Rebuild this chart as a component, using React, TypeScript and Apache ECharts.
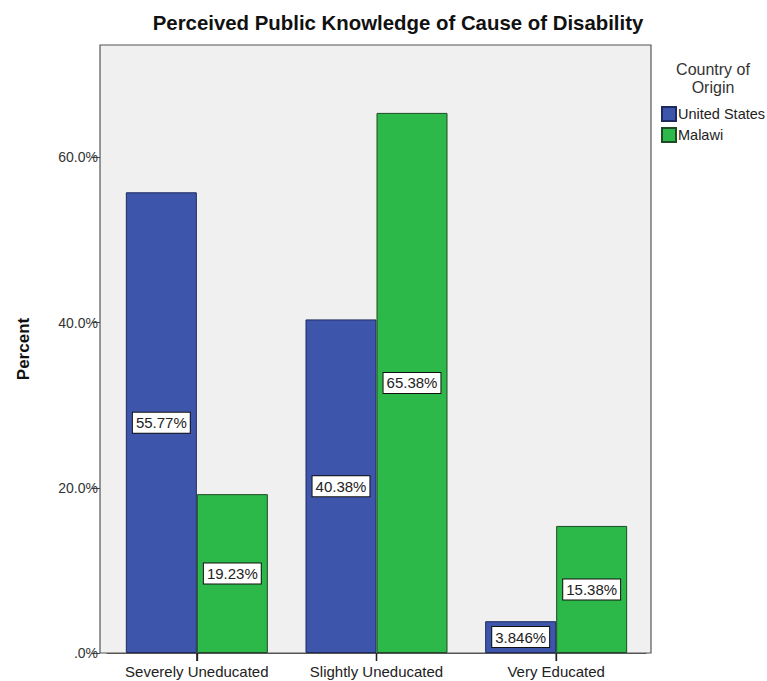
import React, { useEffect, useRef } from "react";
import * as echarts from "echarts";

const categories = ["Severely Uneducated", "Slightly Uneducated", "Very Educated"];
const unitedStates = [55.77, 40.38, 3.846];
const malawi = [19.23, 65.38, 15.38];
const yTicks = [0, 20, 40, 60];
const seriesNames = ["United States", "Malawi"];

const FONT = "Liberation Sans, Arial, sans-serif";

// plot frame (the framed grey panel)
const FRAME = { left: 100, right: 651, top: 45, bottom: 653 };
const W = 767;
const H = 681;

export default function App() {
  const ref = useRef<HTMLDivElement>(null);
  useEffect(() => {
    document.body.style.margin = "0";
    const chart = echarts.init(ref.current!, undefined, { renderer: "svg" });
    const label = {
      show: true,
      position: "inside",
      formatter: (p: any) => `${p.value}%`,
      color: "#222",
      fontFamily: FONT,
      fontSize: 15,
      backgroundColor: "#fff",
      borderColor: "#111",
      borderWidth: 1,
      padding: [3, 3, 2, 3],
    };
    const gridLeft = 107;
    const gridRight = 121;
    const plotW = W - gridLeft - gridRight;
    // category tick decoration at each category centre of the band axis
    const tickLines = categories.map((_c, i) => {
      const x = gridLeft + (plotW * (i + 0.5)) / categories.length;
      return {
        id: `xtick${i}`,
        type: "line",
        silent: true,
        z: 100,
        shape: { x1: x, y1: FRAME.bottom, x2: x, y2: FRAME.bottom + 8 },
        style: { stroke: "#222", lineWidth: 1.3 },
      };
    });
    chart.setOption({
      animation: false,
      backgroundColor: "#fff",
      graphic: [
        {
          id: "frame",
          type: "rect",
          z: -10,
          silent: true,
          shape: {
            x: FRAME.left,
            y: FRAME.top,
            width: FRAME.right - FRAME.left,
            height: FRAME.bottom - FRAME.top,
          },
          style: { fill: "#F0F0F0", stroke: "#555", lineWidth: 1.2 },
        },
        ...tickLines,
      ],
      title: [
        {
          text: "Perceived Public Knowledge of Cause of Disability",
          left: 393,
          top: 8,
          textAlign: "center",
          textStyle: { fontFamily: FONT, fontSize: 20.4, fontWeight: "bold", color: "#111" },
        },
        {
          text: "Country of\nOrigin",
          left: 708,
          top: 55,
          textAlign: "center",
          textStyle: { fontFamily: FONT, fontSize: 16, fontWeight: "normal", color: "#333", lineHeight: 18 },
        },
      ],
      legend: {
        orient: "vertical",
        left: 656,
        top: 101,
        itemWidth: 14,
        itemHeight: 14,
        itemGap: 5,
        icon: "rect",
        data: seriesNames,
        textStyle: { fontFamily: FONT, fontSize: 14.5, color: "#222", padding: [0, 0, 0, -3] },
      },
      grid: {
        left: gridLeft,
        right: gridRight,
        top: FRAME.top,
        bottom: H - FRAME.bottom,
        show: false,
      },
      xAxis: {
        type: "category",
        data: categories,
        axisLine: { show: true, onZero: false, lineStyle: { color: "#555", width: 1.2 } },
        axisTick: {
          show: true,
          interval: 0,
          alignWithLabel: true,
          length: 8,
          lineStyle: { color: "#222", width: 1.3 },
        },
        axisLabel: { interval: 0, fontFamily: FONT, fontSize: 15, color: "#222", margin: 11 },
      },
      yAxis: {
        type: "value",
        min: 0,
        max: 73.6,
        interval: 20,
        offset: gridLeft - FRAME.left,
        name: "Percent",
        nameLocation: "middle",
        nameGap: 68,
        nameTextStyle: { fontFamily: FONT, fontSize: 17, fontWeight: "bold", color: "#111" },
        splitLine: { show: false },
        axisLine: { show: false },
        axisTick: { show: true, length: 8, lineStyle: { color: "#444" }, customValues: yTicks },
        axisLabel: {
          fontFamily: FONT,
          fontSize: 14,
          color: "#333",
          margin: 2,
          customValues: yTicks,
          formatter: (v: number) => (v === 0 ? ".0%" : `${v.toFixed(1)}%`),
        },
      },
      series: [
        {
          name: seriesNames[0],
          type: "bar",
          data: unitedStates,
          barWidth: 71,
          barGap: "0%",
          itemStyle: { color: "#3D55AB", borderColor: "#1E2A5E", borderWidth: 1 },
          label,
        },
        {
          name: seriesNames[1],
          type: "bar",
          data: malawi,
          barWidth: 71,
          barGap: "0%",
          itemStyle: { color: "#2DB84A", borderColor: "#1E4A25", borderWidth: 1 },
          label,
        },
      ],
    });
    return () => chart.dispose();
  }, []);
  return <div ref={ref} style={{ width: W, height: H }} />;
}
